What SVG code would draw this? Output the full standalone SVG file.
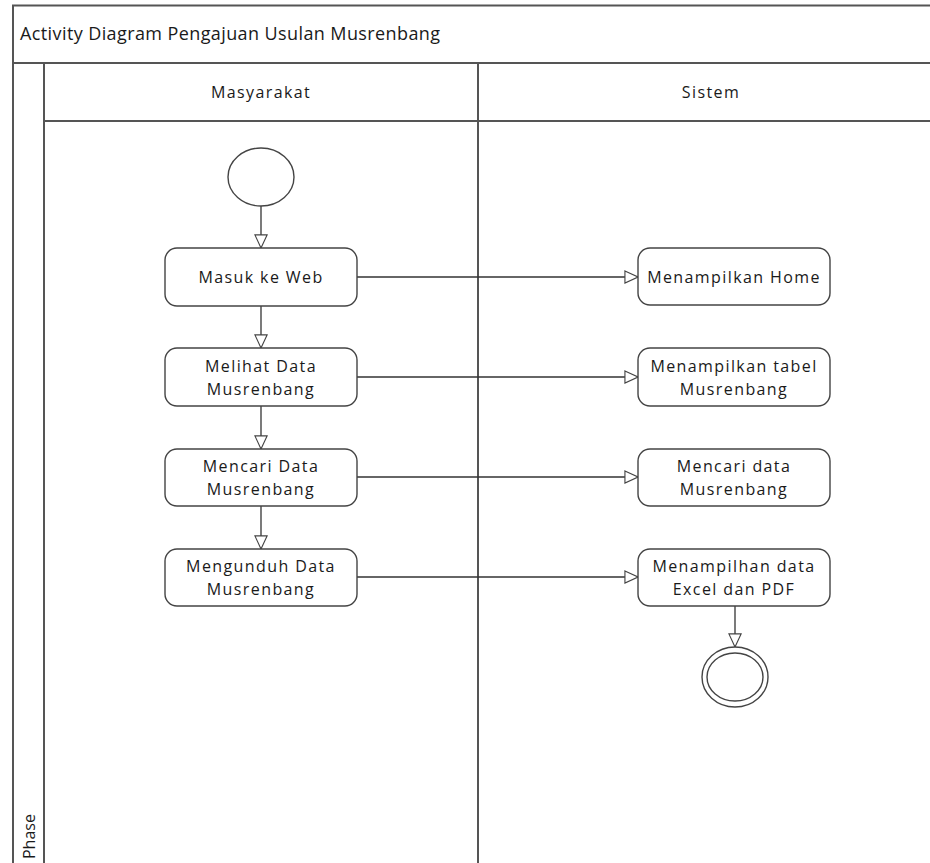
<svg xmlns="http://www.w3.org/2000/svg" width="930" height="863" viewBox="0 0 930 863">
<style>
.frame{fill:none;stroke:#555;stroke-width:2}
.node{fill:#fff;stroke:#444;stroke-width:1.4}
.conn{fill:none;stroke:#333;stroke-width:1.3}
text{font-family:"Open Sans","Noto Sans",sans-serif;fill:#1a1a1a;font-size:16px}
.t{text-anchor:middle;letter-spacing:1.4px}
</style>
<defs>
<marker id="arr" markerUnits="userSpaceOnUse" markerWidth="16" markerHeight="14" refX="14" refY="6.5" orient="auto" viewBox="-1 -1 16 15">
<path d="M0,0 L14,6.5 L0,13 Z" fill="#fff" stroke="#444" stroke-width="1.2"/>
</marker>
</defs>
<rect width="930" height="863" fill="#fff"/>
<g id="pool">
<path class="frame" d="M13,863 V5.5 H930 M13,63 H930 M44,63 V863 M44,121 H930 M478,63 V863"/>
<text x="20" y="40" style="font-size:18px;letter-spacing:0.4px">Activity Diagram Pengajuan Usulan Musrenbang</text>
<text class="t" x="261" y="98">Masyarakat</text>
<text class="t" x="711" y="98">Sistem</text>
<text x="35" y="859" transform="rotate(-90 35 859)" style="font-size:16px">Phase</text>
</g>
<g id="connectors">
<line class="conn" x1="261" y1="206" x2="261" y2="248" marker-end="url(#arr)"/>
<line class="conn" x1="261" y1="306" x2="261" y2="348" marker-end="url(#arr)"/>
<line class="conn" x1="261" y1="406" x2="261" y2="449" marker-end="url(#arr)"/>
<line class="conn" x1="261" y1="506" x2="261" y2="549" marker-end="url(#arr)"/>
<line class="conn" x1="357" y1="277" x2="638" y2="277" marker-end="url(#arr)"/>
<line class="conn" x1="357" y1="377" x2="638" y2="377" marker-end="url(#arr)"/>
<line class="conn" x1="357" y1="477" x2="638" y2="477" marker-end="url(#arr)"/>
<line class="conn" x1="357" y1="577" x2="638" y2="577" marker-end="url(#arr)"/>
<line class="conn" x1="735" y1="606" x2="735" y2="647" marker-end="url(#arr)"/>
</g>
<g id="start"><ellipse class="node" cx="261" cy="177" rx="33" ry="29"/></g>
<g id="masuk"><rect class="node" x="165" y="248" width="192" height="58" rx="12"/><text class="t" x="261" y="283">Masuk ke Web</text></g>
<g id="melihat"><rect class="node" x="165" y="348" width="192" height="58" rx="12"/><text class="t" x="261" y="372">Melihat Data</text><text class="t" x="261" y="395">Musrenbang</text></g>
<g id="mencari"><rect class="node" x="165" y="449" width="192" height="57" rx="12"/><text class="t" x="261" y="472">Mencari Data</text><text class="t" x="261" y="495">Musrenbang</text></g>
<g id="mengunduh"><rect class="node" x="165" y="549" width="192" height="57" rx="12"/><text class="t" x="261" y="572">Mengunduh Data</text><text class="t" x="261" y="595">Musrenbang</text></g>
<g id="home"><rect class="node" x="638" y="248" width="192" height="57" rx="12"/><text class="t" x="734" y="283">Menampilkan Home</text></g>
<g id="tabel"><rect class="node" x="638" y="348" width="192" height="58" rx="12"/><text class="t" x="734" y="372">Menampilkan tabel</text><text class="t" x="734" y="395">Musrenbang</text></g>
<g id="caridata"><rect class="node" x="638" y="449" width="192" height="57" rx="12"/><text class="t" x="734" y="472">Mencari data</text><text class="t" x="734" y="495">Musrenbang</text></g>
<g id="tampil"><rect class="node" x="638" y="549" width="192" height="57" rx="12"/><text class="t" x="734" y="572">Menampilhan data</text><text class="t" x="734" y="595">Excel dan PDF</text></g>
<g id="end"><ellipse class="node" cx="735" cy="677" rx="33" ry="30"/><ellipse class="node" cx="735" cy="677" rx="28" ry="24"/></g>
</svg>
